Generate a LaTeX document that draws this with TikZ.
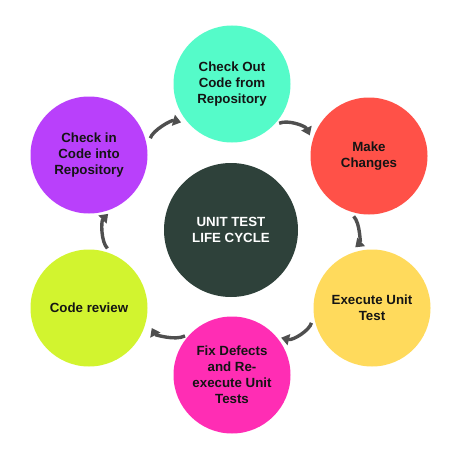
\documentclass[tikz,border=0pt]{standalone}
\usepackage{fontspec}
\setmainfont{Liberation Sans}
\usetikzlibrary{arrows.meta}
\definecolor{cmint}{HTML}{55FBC9}
\definecolor{cred}{HTML}{FF5148}
\definecolor{cyel}{HTML}{FFDA5C}
\definecolor{cpink}{HTML}{FF2DB4}
\definecolor{clime}{HTML}{D2F42F}
\definecolor{cpurp}{HTML}{B940FB}
\definecolor{cdark}{HTML}{2E413A}
\definecolor{carrow}{HTML}{4F4F4F}
\definecolor{ctext}{HTML}{141414}
\tikzset{
  stage/.style={circle, minimum size=117pt, inner sep=0pt, draw=none, align=center,
    text=ctext, font=\fontsize{13.3}{16}\selectfont\bfseries},
  hub/.style={circle, minimum size=134pt, inner sep=0pt, fill=cdark, align=center,
    text=white, font=\fontsize{13.3}{16}\selectfont\bfseries},
  cyc/.style={draw=carrow, line width=3.4pt, -{Triangle[length=8pt,width=11pt]}, bend left=45},
}
\begin{document}
\begin{tikzpicture}[x=1pt,y=-1pt]
\useasboundingbox (0,0) rectangle (460,460);
\node[hub] (hub) at (231,230) {UNIT TEST\\LIFE CYCLE};
\node[stage, fill=cmint] (checkout) at (232,84) {Check Out\\Code from\\Repository};
\node[stage, fill=cred] (make) at (369,156) {Make\\Changes};
\node[stage, fill=cyel] (exec) at (372,308) {Execute Unit\\Test};
\node[stage, fill=cpink] (fix) at (232,375) {Fix Defects\\and Re-\\execute Unit\\Tests};
\node[stage, fill=clime] (review) at (89,308) {Code review};
\node[stage, fill=cpurp] (checkin) at (89,155) {Check in\\Code into\\Repository};
\draw[cyc, shorten <=11pt, shorten >=9pt] (checkin.6) to (checkout.224);
\draw[cyc, shorten <=7pt, shorten >=6pt] (checkout.314) to (make.165);
\draw[cyc, shorten <=7pt, shorten >=11pt] (make.250) to (exec.115);
\draw[cyc, shorten <=9pt, shorten >=5pt] (exec.186) to (fix.41);
\draw[cyc, shorten <=7pt, shorten >=11pt] (fix.134) to (review.350);
\draw[cyc, shorten <=9pt, shorten >=8pt] (review.65) to (checkin.295);
\end{tikzpicture}
\end{document}
